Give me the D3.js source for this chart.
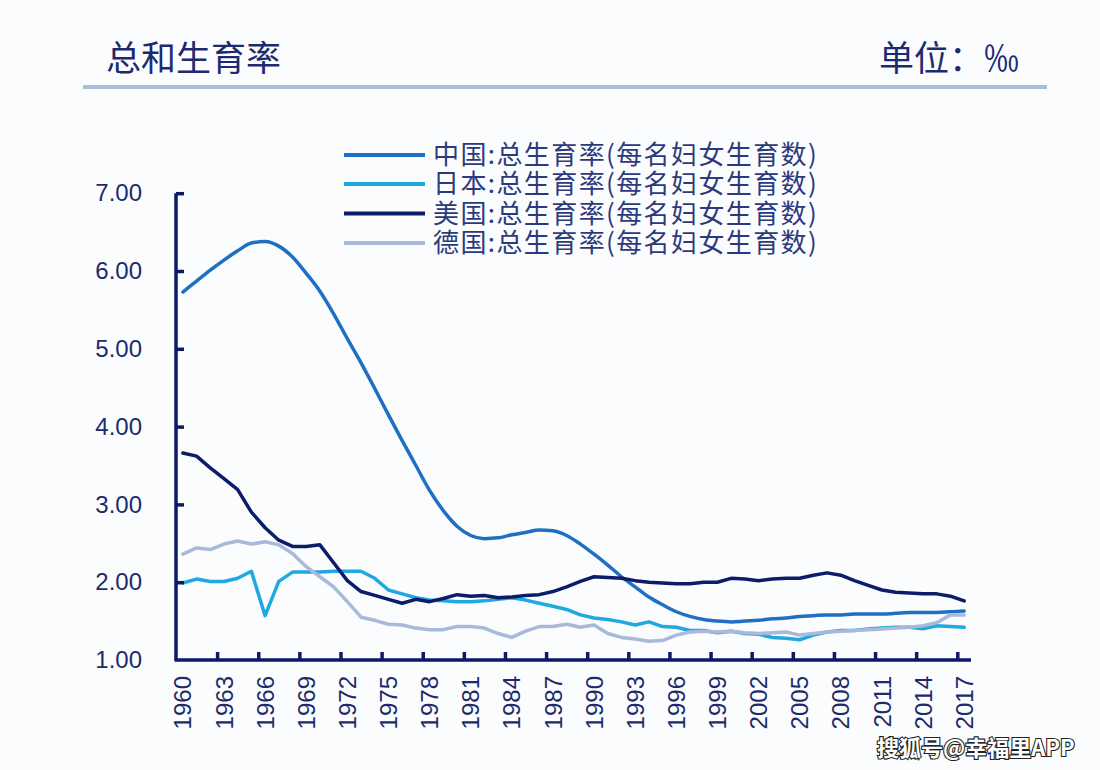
<!DOCTYPE html>
<html>
<head>
<meta charset="utf-8">
<script src="https://cdn.jsdelivr.net/npm/d3@7"></script>
<style>
  html, body { margin: 0; padding: 0; background: #fbfcfe; }
  svg { display: block; }
</style>
</head>
<body>
<svg id="chart" width="1100" height="770"></svg>
<script>
const years = d3.range(1960, 2018);
const labelYears = d3.range(1960, 2018, 3);
const boundaryYears = d3.range(1963, 2018, 3);
const yTicks = [1, 2, 3, 4, 5, 6, 7];

const seriesNames = [
  "中国:总生育率(每名妇女生育数)",
  "日本:总生育率(每名妇女生育数)",
  "美国:总生育率(每名妇女生育数)",
  "德国:总生育率(每名妇女生育数)"
];
const seriesColors = ["#1f6fc2", "#20a8e0", "#0c1c68", "#a9b9d9"];

const china = [5.73, 5.87, 6.01, 6.14, 6.26, 6.36, 6.38, 6.32, 6.18, 5.97,
  5.74, 5.45, 5.13, 4.82, 4.49, 4.15, 3.82, 3.50, 3.18, 2.92,
  2.72, 2.60, 2.56, 2.57, 2.61, 2.64, 2.67, 2.66, 2.60, 2.49,
  2.36, 2.22, 2.07, 1.94, 1.81, 1.71, 1.62, 1.56, 1.52, 1.50,
  1.49, 1.50, 1.51, 1.53, 1.54, 1.56, 1.57, 1.58, 1.58, 1.59,
  1.59, 1.59, 1.60, 1.61, 1.61, 1.61, 1.62, 1.63];
const japan = [1.99, 2.04, 2.01, 2.01, 2.05, 2.14, 1.57, 2.01, 2.13, 2.13,
  2.13, 2.14, 2.14, 2.14, 2.05, 1.90, 1.85, 1.80, 1.77, 1.76,
  1.75, 1.75, 1.76, 1.78, 1.80, 1.77, 1.73, 1.69, 1.65, 1.58,
  1.54, 1.52, 1.49, 1.45, 1.49, 1.43, 1.42, 1.38, 1.38, 1.35,
  1.37, 1.34, 1.33, 1.29, 1.28, 1.26, 1.32, 1.36, 1.38, 1.38,
  1.40, 1.41, 1.42, 1.42, 1.40, 1.44, 1.43, 1.42];
const usa = [3.66, 3.62, 3.47, 3.33, 3.19, 2.90, 2.70, 2.54, 2.46, 2.46,
  2.48, 2.25, 2.02, 1.88, 1.83, 1.78, 1.73, 1.78, 1.75, 1.79,
  1.84, 1.82, 1.83, 1.80, 1.81, 1.83, 1.84, 1.88, 1.94, 2.01,
  2.07, 2.06, 2.05, 2.02, 2.00, 1.99, 1.98, 1.98, 2.00, 2.00,
  2.05, 2.04, 2.02, 2.04, 2.05, 2.05, 2.09, 2.12, 2.09, 2.02,
  1.96, 1.90, 1.87, 1.86, 1.85, 1.85, 1.82, 1.76];
const germany = [2.36, 2.44, 2.42, 2.49, 2.53, 2.49, 2.52, 2.48, 2.37, 2.20,
  2.07, 1.94, 1.75, 1.55, 1.51, 1.46, 1.45, 1.41, 1.39, 1.39,
  1.43, 1.43, 1.41, 1.34, 1.29, 1.37, 1.43, 1.43, 1.46, 1.42,
  1.45, 1.34, 1.29, 1.27, 1.24, 1.25, 1.32, 1.36, 1.37, 1.36,
  1.37, 1.35, 1.34, 1.35, 1.36, 1.32, 1.34, 1.36, 1.37, 1.38,
  1.39, 1.40, 1.41, 1.42, 1.44, 1.48, 1.58, 1.58];

const allSeries = [china, japan, usa, germany];

const svg = d3.select("#chart");
const axisColor = "#0b1a66";
const textColor = "#1d2b6a";

const plotLeft = 176, plotRight = 971, plotTop = 193.2, plotBottom = 660;

const x = d3.scaleBand().domain(years).range([plotLeft, plotRight]).padding(0);
const xEdge = d3.scaleLinear().domain([1960, 2018]).range([plotLeft, plotRight]);
const y = d3.scaleLinear().domain([1, 7]).range([plotBottom, plotTop]);

// Title + unit
svg.append("text")
  .attr("x", 106).attr("y", 71)
  .attr("font-family", "'Noto Sans CJK SC', sans-serif")
  .attr("font-size", 35).attr("font-weight", 400)
  .attr("fill", "#1c2b70")
  .text("总和生育率");
svg.append("text")
  .attr("x", 1019).attr("y", 71)
  .attr("text-anchor", "end")
  .attr("font-family", "'Noto Sans CJK SC', sans-serif")
  .attr("font-size", 35).attr("font-weight", 400)
  .attr("fill", "#1c2b70")
  .text("单位：‰");
svg.append("rect")
  .attr("x", 83).attr("y", 85).attr("width", 964).attr("height", 4)
  .attr("fill", "#a9bedb");

// Lines
const makeLine = (arr, curve) => d3.line()
  .x((d, i) => x(years[i]) + x.bandwidth() / 2)
  .y(d => y(d))
  .curve(curve)(arr);

allSeries.forEach((arr, k) => {
  svg.append("path")
    .attr("d", makeLine(arr, k === 0 ? d3.curveMonotoneX : d3.curveLinear))
    .attr("fill", "none")
    .attr("stroke", seriesColors[k])
    .attr("stroke-width", 3.5)
    .attr("stroke-linejoin", "round")
    .attr("stroke-linecap", "round");
});

// Y axis
const yAxis = svg.append("g")
  .attr("transform", `translate(${plotLeft},0)`)
  .call(d3.axisLeft(y).tickValues(yTicks).tickSize(-8).tickPadding(34)
    .tickFormat(d3.format(".2f")));
yAxis.select(".domain").attr("stroke", axisColor).attr("stroke-width", 3.5)
  .attr("d", `M0,${plotTop}V${plotBottom}`);
yAxis.selectAll(".tick line").attr("stroke", axisColor).attr("stroke-width", 3.5)
  .filter(d => d === 1).remove();
yAxis.selectAll(".tick text")
  .attr("font-family", "'Liberation Sans', Arial, sans-serif")
  .attr("font-size", 24).attr("fill", textColor);

// X axis labels
const xAxis = svg.append("g")
  .attr("transform", `translate(0,${plotBottom})`)
  .call(d3.axisBottom(x).tickValues(labelYears).tickSize(0));
xAxis.select(".domain").remove();
xAxis.selectAll(".tick text")
  .attr("font-family", "'Liberation Sans', Arial, sans-serif")
  .attr("font-size", 24).attr("fill", textColor)
  .attr("transform", "rotate(-90)")
  .attr("text-anchor", "end")
  .attr("x", -16).attr("y", 0).attr("dy", "0.36em");

// X axis ticks at category boundaries
const xTickAxis = svg.append("g")
  .attr("transform", `translate(0,${plotBottom})`)
  .call(d3.axisBottom(xEdge).tickValues(boundaryYears).tickSize(-8).tickFormat(""));
xTickAxis.select(".domain").attr("stroke", axisColor).attr("stroke-width", 3.5)
  .attr("d", `M${plotLeft - 1.5},0H${plotRight}`);
xTickAxis.selectAll(".tick line").attr("stroke", axisColor).attr("stroke-width", 3.5);

// Legend
const legend = svg.append("g");
const legendY = [155, 184, 213.5, 243];
seriesNames.forEach((name, k) => {
  legend.append("line")
    .attr("x1", 344).attr("x2", 425)
    .attr("y1", legendY[k]).attr("y2", legendY[k])
    .attr("stroke", seriesColors[k]).attr("stroke-width", 4);
  legend.append("text")
    .attr("x", 433).attr("y", legendY[k]).attr("dy", "0.36em")
    .attr("font-family", "'Noto Sans CJK SC', sans-serif")
    .attr("font-size", 26).attr("letter-spacing", 1.4).attr("fill", "#2b3a7c")
    .text(name);
});

// Watermark
svg.append("text")
  .attr("x", 877).attr("y", 756)
  .attr("font-family", "'Noto Sans CJK SC', sans-serif")
  .attr("font-size", 22).attr("font-weight", 700)
  .attr("fill", "#ffffff").attr("stroke", "#222").attr("stroke-width", 2.2)
  .attr("paint-order", "stroke")
  .text("搜狐号@幸福里APP");
</script>
</body>
</html>
